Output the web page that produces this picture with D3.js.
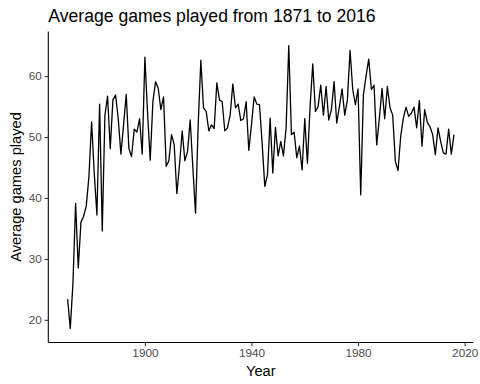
<!DOCTYPE html>
<html>
<head>
<meta charset="utf-8">
<script src="https://cdn.jsdelivr.net/npm/d3@7/dist/d3.min.js"></script>
<style>
  html, body { margin: 0; padding: 0; background: #ffffff; }
  svg { display: block; }
  text { font-family: "Liberation Sans", Arial, Helvetica, sans-serif; }
</style>
</head>
<body>
<svg id="chart" width="480" height="384"></svg>
<script>
// ---- data ----
const startYear = 1871;
const endYear = 2016;
const avgGames = [
  23.4, 18.6, 26.0, 39.1, 28.5, 36.0, 37.0, 38.7, 43.5, 52.5,   // 1871-1880
  44.0, 37.2, 55.4, 34.6, 53.6, 56.7, 48.1, 56.1, 56.9, 53.0,   // 1881-1890
  47.2, 52.0, 57.0, 48.1, 46.8, 51.3, 50.8, 53.0, 47.2, 63.1,   // 1891-1900
  54.0, 46.2, 55.8, 59.1, 58.0, 54.5, 56.6, 45.2, 46.1, 50.4,   // 1901-1910
  48.7, 40.7, 45.5, 51.0, 46.1, 47.6, 52.8, 45.0, 37.5, 52.0,   // 1911-1920
  62.6, 54.8, 54.2, 51.0, 52.0, 51.4, 58.9, 56.1, 55.8, 51.0,   // 1921-1930
  51.5, 53.6, 58.7, 54.8, 55.4, 52.7, 53.0, 55.8, 47.8, 52.0,   // 1931-1940
  56.6, 55.4, 55.3, 49.0, 41.9, 43.8, 53.1, 44.1, 51.6, 46.9,   // 1941-1950
  49.3, 46.9, 51.5, 65.0, 50.4, 50.8, 46.6, 48.5, 44.6, 53.0,   // 1951-1960
  45.7, 55.0, 62.0, 54.2, 55.0, 58.5, 53.6, 58.3, 52.8, 54.5,   // 1961-1970
  59.1, 52.3, 55.0, 57.9, 53.6, 56.1, 64.2, 57.8, 55.3, 57.9,   // 1971-1980
  40.5, 56.9, 60.0, 62.8, 57.8, 58.5, 48.7, 53.1, 58.0, 53.0,   // 1981-1990
  58.3, 54.8, 53.6, 46.0, 44.5, 50.1, 53.1, 54.9, 53.4, 53.9,   // 1991-2000
  54.9, 51.5, 56.0, 48.5, 54.5, 52.4, 51.7, 50.4, 47.1, 51.5,   // 2001-2010
  49.3, 47.4, 47.2, 51.3, 47.2, 50.4                            // 2011-2016
];
const years = d3.range(startYear, endYear + 1);
const xTicks = [1900, 1940, 1980, 2020];
const yTicks = [20, 30, 40, 50, 60];
const titleText = "Average games played from 1871 to 2016";
const xLabel = "Year";
const yLabel = "Average games played";

const data = years.map((y, i) => ({ year: y, value: avgGames[i] }));

// ---- layout ----
const panel = { left: 48.3, right: 473.3, top: 31.5, bottom: 342.5 };
const svg = d3.select("#chart");

function expand(ext, mult) {
  const span = ext[1] - ext[0];
  return [ext[0] - span * mult, ext[1] + span * mult];
}

const x = d3.scaleLinear()
  .domain(expand(d3.extent(years), 0.05))
  .range([panel.left, panel.right]);
const y = d3.scaleLinear()
  .domain(expand(d3.extent(avgGames), 0.05))
  .range([panel.bottom, panel.top]);

// line
const line = d3.line().x(d => x(d.year)).y(d => y(d.value));
svg.append("path")
  .datum(data)
  .attr("d", line)
  .attr("fill", "none")
  .attr("stroke", "#000")
  .attr("stroke-width", 1.3)
  .attr("stroke-linejoin", "round");

// axes
const tickLen = 3.67;
const xAxis = d3.axisBottom(x).tickValues(xTicks).tickFormat(d3.format("d"))
  .tickSize(tickLen).tickPadding(2.9);
const yAxis = d3.axisLeft(y).tickValues(yTicks).tickFormat(d3.format("d"))
  .tickSize(tickLen).tickPadding(2.9);

const gx = svg.append("g")
  .attr("transform", `translate(0,${panel.bottom})`)
  .call(xAxis);
const gy = svg.append("g")
  .attr("transform", `translate(${panel.left},0)`)
  .call(yAxis);

[gx, gy].forEach(g => {
  g.select(".domain").remove();
  g.selectAll(".tick line").attr("stroke", "#333333").attr("stroke-width", 1.07);
  g.selectAll(".tick text")
    .attr("fill", "#4D4D4D")
    .style("font-size", "11.73px")
    .style("font-family", "'Liberation Sans', Arial, sans-serif");
});

// axis lines (theme_classic)
svg.append("line")
  .attr("x1", panel.left).attr("x2", panel.right)
  .attr("y1", panel.bottom).attr("y2", panel.bottom)
  .attr("stroke", "#000").attr("stroke-width", 1.07);
svg.append("line")
  .attr("x1", panel.left).attr("x2", panel.left)
  .attr("y1", panel.top).attr("y2", panel.bottom)
  .attr("stroke", "#000").attr("stroke-width", 1.07);

// title
svg.append("text")
  .attr("x", panel.left)
  .attr("y", 21.5)
  .attr("fill", "#000")
  .style("font-size", "17.6px")
  .text(titleText);

// x label
svg.append("text")
  .attr("x", (panel.left + panel.right) / 2)
  .attr("y", 376)
  .attr("text-anchor", "middle")
  .attr("fill", "#000")
  .style("font-size", "14.67px")
  .text(xLabel);

// y label
svg.append("text")
  .attr("transform", `translate(20.5,${(panel.top + panel.bottom) / 2}) rotate(-90)`)
  .attr("text-anchor", "middle")
  .attr("fill", "#000")
  .style("font-size", "14.67px")
  .text(yLabel);
</script>
</body>
</html>
